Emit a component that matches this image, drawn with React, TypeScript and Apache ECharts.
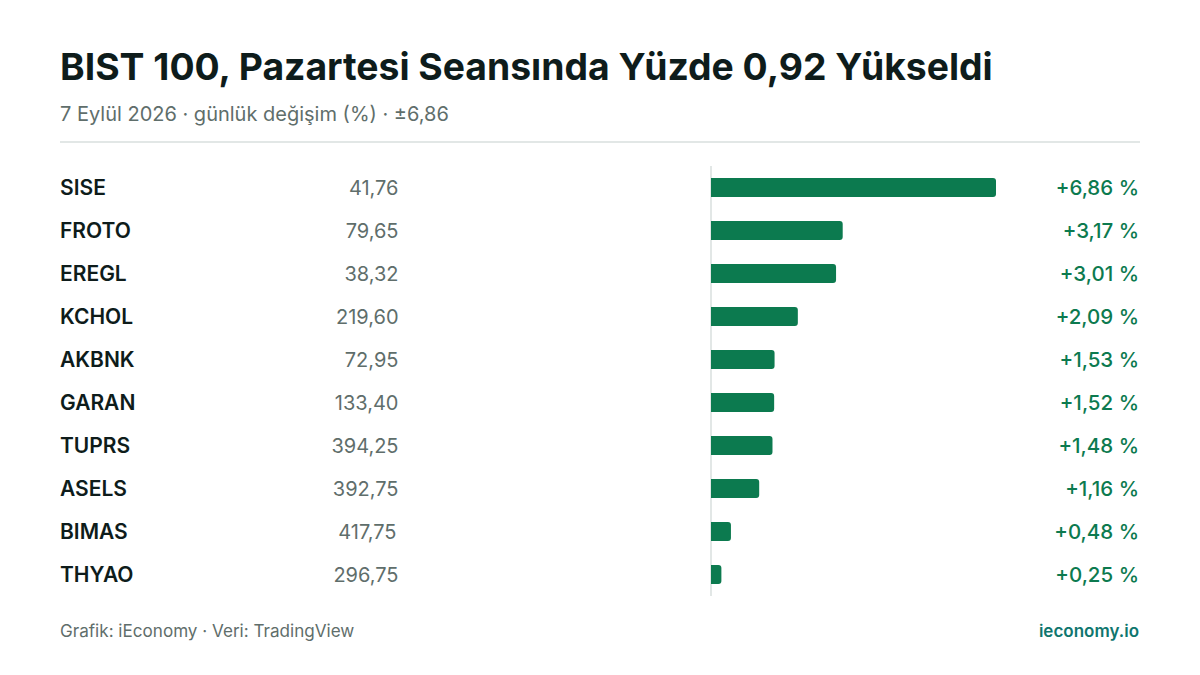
import React, { useEffect, useRef } from "react";
import * as echarts from "echarts";

const tickers = ["SISE", "FROTO", "EREGL", "KCHOL", "AKBNK", "GARAN", "TUPRS", "ASELS", "BIMAS", "THYAO"];
const prices = ["41,76", "79,65", "38,32", "219,60", "72,95", "133,40", "394,25", "392,75", "417,75", "296,75"];
const changes = [6.86, 3.17, 3.01, 2.09, 1.53, 1.52, 1.48, 1.16, 0.48, 0.25];
const changeLabels = ["+6,86 %", "+3,17 %", "+3,01 %", "+2,09 %", "+1,53 %", "+1,52 %", "+1,48 %", "+1,16 %", "+0,48 %", "+0,25 %"];

const FONT = "Inter";
const INK = "#0e1c1b";
const MUTED = "#5f6e6b";
const RULE = "#e2e7e6";
const GREEN = "#0c7a4f";
const BRAND = "#0f766e";

export default function App() {
  const ref = useRef<HTMLDivElement>(null);
  useEffect(() => {
    document.body.style.margin = "0";
    const chart = echarts.init(ref.current!, null, { renderer: "svg" });
    chart.setOption({
      animation: false,
      backgroundColor: "#ffffff",
      textStyle: { fontFamily: FONT },
      grid: { left: 711, width: 285, top: 166, height: 430, containLabel: false },
      xAxis: { type: "value", min: 0, max: 6.86, show: false },
      yAxis: [
        {
          type: "category",
          inverse: true,
          data: tickers,
          position: "left",
          offset: 2,
          axisLine: { show: true, lineStyle: { color: RULE, width: 2, cap: "butt" } },
          axisTick: { show: false },
          axisLabel: {
            align: "left",
            margin: 649,
            padding: [2, 0, 0, 0],
            color: INK,
            fontFamily: FONT,
            fontSize: 21,
            fontWeight: 600,
          },
        },
        {
          type: "category",
          inverse: true,
          data: prices.map((p) => (p === "417,75" ? { value: p, textStyle: { padding: [0, 2, 0, 0] } } : p)),
          position: "left",
          axisLine: { show: false },
          axisTick: { show: false },
          axisLabel: { align: "right", margin: 312.5, color: MUTED, fontFamily: FONT, fontSize: 20, fontWeight: 400 },
        },
        {
          type: "category",
          inverse: true,
          data: changeLabels,
          position: "right",
          axisLine: { show: false },
          axisTick: { show: false },
          axisLabel: { align: "right", margin: 143, color: GREEN, fontFamily: FONT, fontSize: 20.5, fontWeight: 500 },
        },
      ],
      series: [
        {
          type: "bar",
          data: changes,
          barWidth: 19,
          itemStyle: { color: GREEN, borderRadius: [0, 3, 3, 0] },
          silent: true,
        },
      ],
      graphic: [
        { type: "text", x: 60, y: 48, style: { text: "BIST 100, Pazartesi Seansında Yüzde 0,92 Yükseldi", font: `700 37.3px ${FONT}`, fill: INK } },
        { type: "text", x: 60, y: 104, style: { text: "7 Eylül 2026 · günlük değişim (%) · ±6,86", font: `400 20px ${FONT}`, fill: MUTED } },
        { type: "rect", shape: { x: 60, y: 141, width: 1080, height: 2 }, style: { fill: RULE } },
        { type: "text", x: 60, y: 622, style: { text: "Grafik: iEconomy · Veri: TradingView", font: `400 17.1px ${FONT}`, fill: MUTED } },
        { type: "text", x: 1139, y: 622, style: { text: "ieconomy.io", font: `600 17px ${FONT}`, fill: BRAND, align: "right" } },
      ],
    });
    return () => chart.dispose();
  }, []);
  return <div ref={ref} style={{ width: 1200, height: 675 }} />;
}
